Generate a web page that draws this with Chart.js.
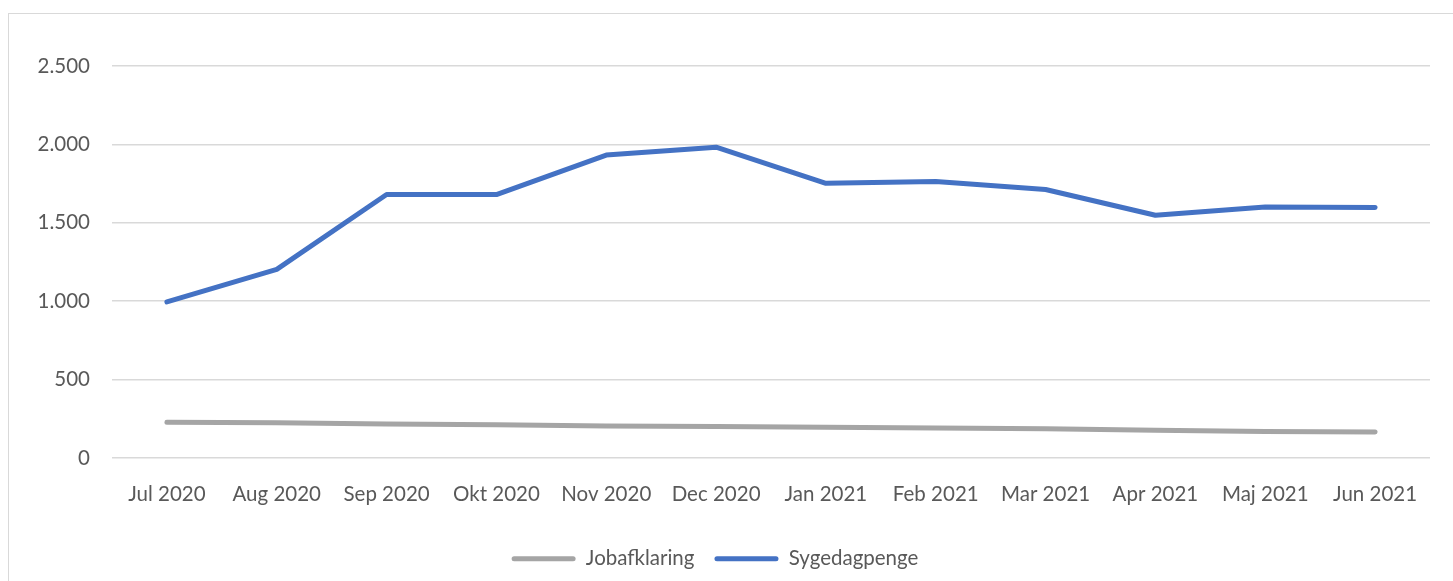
<!DOCTYPE html>
<html>
<head>
<meta charset="utf-8">
<script src="https://cdn.jsdelivr.net/npm/chart.js@4/dist/chart.umd.min.js"></script>
<style>
  html, body { margin: 0; padding: 0; background: #fff; overflow: hidden; }
  #wrap { position: relative; width: 1453px; height: 581px; }
  #frame { position: absolute; left: 8px; top: 13px; width: 1460px; height: 600px; border: 1px solid #d9d9d9; box-sizing: border-box; }
  #myChart { position: absolute; left: 0; top: 0; }
</style>
</head>
<body>
<div id="wrap">
  <div id="frame"></div>
  <canvas id="myChart" width="1453" height="581"></canvas>
</div>
<script>
const maaneder = ['Jul 2020', 'Aug 2020', 'Sep 2020', 'Okt 2020', 'Nov 2020', 'Dec 2020',
                  'Jan 2021', 'Feb 2021', 'Mar 2021', 'Apr 2021', 'Maj 2021', 'Jun 2021'];
const jobafklaring = [228, 224, 217, 211, 204, 201, 196, 190, 186, 177, 169, 165];
const sygedagpenge = [995, 1203, 1680, 1680, 1932, 1982, 1752, 1763, 1712, 1548, 1600, 1598];
const yTicks = [0, 500, 1000, 1500, 2000, 2500];

const tekstFarve = '#595959';
const font = { family: 'Lato, "Open Sans", sans-serif', size: 20.5 };

// tusindtals-punktum som i dansk Excel
const fmt = v => String(v).replace(/\B(?=(\d{3})+(?!\d))/g, '.');

const ctx = document.getElementById('myChart').getContext('2d');

new Chart(ctx, {
  type: 'line',
  data: {
    labels: maaneder,
    datasets: [{
      label: 'Jobafklaring',
      data: jobafklaring,
      borderColor: '#a5a5a5',
      backgroundColor: '#a5a5a5',
      borderWidth: 5,
      borderCapStyle: 'round',
      borderJoinStyle: 'round',
      pointRadius: 0,
      tension: 0
    }, {
      label: 'Sygedagpenge',
      data: sygedagpenge,
      borderColor: '#4472c4',
      backgroundColor: '#4472c4',
      borderWidth: 5,
      borderCapStyle: 'round',
      borderJoinStyle: 'round',
      pointRadius: 0,
      tension: 0
    }]
  },
  options: {
    responsive: false,
    animation: false,
    layout: { padding: { top: 66, right: 23, bottom: 2, left: 0 } },
    plugins: {
      tooltip: { enabled: false },
      legend: {
        position: 'bottom',
        labels: {
          color: tekstFarve,
          font: font,
          boxWidth: 64,
          boxHeight: 5,
          padding: 20,
          generateLabels(chart) {
            return chart.data.datasets.map((ds, i) => ({
              text: ds.label,
              fillStyle: ds.borderColor,
              strokeStyle: ds.borderColor,
              lineWidth: 0,
              borderRadius: 2.5,
              fontColor: tekstFarve,
              datasetIndex: i
            }));
          },
          useBorderRadius: true
        }
      }
    },
    scales: {
      x: {
        offset: true,
        afterFit(axis) { axis.height += 6; },
        grid: { display: false },
        border: { display: false },
        ticks: { color: tekstFarve, font: font, maxRotation: 0, autoSkip: false, padding: 16 }
      },
      y: {
        min: 0,
        max: 2500,
        afterBuildTicks(axis) { axis.ticks = yTicks.map(v => ({ value: v })); },
        afterFit(axis) { axis.width = 112; },
        grid: { color: '#d9d9d9', lineWidth: 1.5, drawTicks: false },
        border: { display: false },
        ticks: { color: tekstFarve, font: font, padding: 22, callback: v => fmt(v) }
      }
    }
  }
});
</script>
</body>
</html>
